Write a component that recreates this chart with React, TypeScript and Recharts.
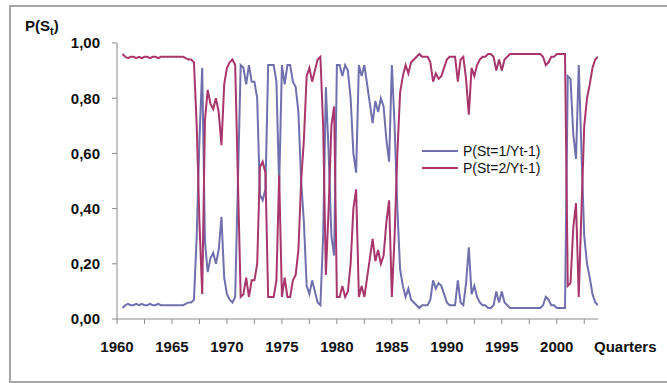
import { Legend, Line, LineChart, XAxis, YAxis } from "recharts";

const startYear = 1960.5;

// P(St=1/Yt-1), one value per quarter
const p1 = [
  0.04, 0.05, 0.055, 0.05, 0.05, 0.055, 0.05, 0.055, 0.05, 0.05,
  0.055, 0.05, 0.05, 0.055, 0.05, 0.05, 0.05, 0.05, 0.05, 0.05,
  0.05, 0.05, 0.05, 0.055, 0.06, 0.06, 0.07, 0.3, 0.65, 0.91,
  0.28, 0.17, 0.22, 0.24, 0.2, 0.25, 0.37, 0.15, 0.09, 0.07,
  0.06, 0.08, 0.5, 0.92, 0.91, 0.85, 0.92, 0.86, 0.86, 0.8,
  0.45, 0.43, 0.47, 0.92, 0.92, 0.92, 0.86, 0.48, 0.92, 0.85,
  0.92, 0.92, 0.86, 0.84, 0.75, 0.5, 0.35, 0.12, 0.09, 0.14,
  0.1, 0.06, 0.05, 0.3, 0.84, 0.6, 0.3, 0.23, 0.92, 0.92,
  0.88, 0.92, 0.9, 0.8, 0.6, 0.53, 0.92, 0.88, 0.92, 0.85,
  0.78, 0.71, 0.79, 0.75, 0.8, 0.77, 0.65, 0.57, 0.92, 0.7,
  0.4, 0.18, 0.12, 0.08, 0.11, 0.07, 0.06, 0.05, 0.04, 0.05,
  0.05, 0.05, 0.07, 0.14, 0.11, 0.13, 0.12, 0.09, 0.06, 0.05,
  0.05, 0.05, 0.14, 0.06, 0.05, 0.13, 0.26, 0.09, 0.12, 0.08,
  0.06, 0.05, 0.05, 0.04, 0.04, 0.05, 0.1, 0.06, 0.1, 0.06,
  0.05, 0.04, 0.04, 0.04, 0.04, 0.04, 0.04, 0.04, 0.04, 0.04,
  0.04, 0.04, 0.04, 0.05, 0.08, 0.07, 0.05, 0.05, 0.04, 0.04,
  0.04, 0.04, 0.88, 0.87, 0.67, 0.58, 0.92, 0.6, 0.3, 0.2,
  0.15, 0.09, 0.06, 0.05,
];

// P(St=2/Yt-1)
const p2 = [
  0.96, 0.95, 0.945, 0.95, 0.95, 0.945, 0.95, 0.945, 0.95, 0.95,
  0.945, 0.95, 0.95, 0.945, 0.95, 0.95, 0.95, 0.95, 0.95, 0.95,
  0.95, 0.95, 0.95, 0.945, 0.94, 0.94, 0.93, 0.7, 0.35, 0.09,
  0.72, 0.83, 0.78, 0.76, 0.8, 0.75, 0.63, 0.85, 0.91, 0.93,
  0.94, 0.92, 0.5, 0.08, 0.09, 0.15, 0.08, 0.14, 0.14, 0.2,
  0.55, 0.57, 0.53, 0.08, 0.08, 0.08, 0.14, 0.52, 0.08, 0.15,
  0.08, 0.08, 0.14, 0.16, 0.25, 0.5, 0.65, 0.88, 0.91, 0.86,
  0.9, 0.94, 0.95, 0.7, 0.16, 0.4, 0.7, 0.77, 0.08, 0.08,
  0.12, 0.08, 0.1, 0.2, 0.4, 0.47, 0.08, 0.12, 0.08, 0.15,
  0.22, 0.29, 0.21, 0.25, 0.2, 0.23, 0.35, 0.43, 0.08, 0.3,
  0.6, 0.82, 0.88, 0.92, 0.89, 0.93, 0.94, 0.95, 0.96, 0.95,
  0.95, 0.95, 0.93, 0.86, 0.89, 0.87, 0.88, 0.91, 0.94, 0.95,
  0.95, 0.95, 0.86, 0.94, 0.95, 0.87, 0.74, 0.91, 0.88, 0.92,
  0.94, 0.95, 0.95, 0.96, 0.96, 0.95, 0.9, 0.94, 0.9, 0.94,
  0.95, 0.96, 0.96, 0.96, 0.96, 0.96, 0.96, 0.96, 0.96, 0.96,
  0.96, 0.96, 0.96, 0.95, 0.92, 0.93, 0.95, 0.95, 0.96, 0.96,
  0.96, 0.96, 0.12, 0.13, 0.33, 0.42, 0.08, 0.4, 0.7, 0.8,
  0.85, 0.91, 0.94, 0.95,
];

const yTicks = [0, 0.2, 0.4, 0.6, 0.8, 1];
const xTicks = [
  1960, 1962.5, 1965, 1967.5, 1970, 1972.5, 1975, 1977.5, 1980, 1982.5,
  1985, 1987.5, 1990, 1992.5, 1995, 1997.5, 2000, 2002.5,
];
const xLabels = [1960, 1965, 1970, 1975, 1980, 1985, 1990, 1995, 2000];

const data = p1.map((v, i) => ({ t: startYear + i * 0.25, p1: v, p2: p2[i] }));

const font = "'Liberation Sans', Arial, sans-serif";
const blue = "#7070ae";
const red = "#a8366d";
const tickStyle = { fill: "#111", fontSize: 15, fontWeight: "bold", fontFamily: font };

function LegendBox() {
  const items = [
    { label: "P(St=1/Yt-1)", color: blue },
    { label: "P(St=2/Yt-1)", color: red },
  ];
  return (
    <div style={{ fontFamily: font, fontSize: 14, color: "#111" }}>
      {items.map((it) => (
        <div key={it.label} style={{ display: "flex", alignItems: "center", height: 17 }}>
          <svg width={36} height={4} style={{ marginRight: 5 }}>
            <line x1={0} y1={2} x2={36} y2={2} stroke={it.color} strokeWidth={2} />
          </svg>
          <span>{it.label}</span>
        </div>
      ))}
    </div>
  );
}

export default function App() {
  return (
    <div style={{ position: "relative", width: 667, height: 383, overflow: "hidden", background: "#fff" }}>
      <style>{"body{margin:0}"}</style>
      <div
        style={{
          position: "absolute",
          left: 9,
          top: 5,
          width: 680,
          height: 374,
          border: "2px solid #a6a6a6",
        }}
      />
      <div
        style={{
          position: "absolute",
          left: 25,
          top: 17,
          fontFamily: font,
          fontSize: 15,
          fontWeight: "bold",
          color: "#111",
        }}>
        P(S<sub style={{ fontSize: 11 }}>t</sub>)
      </div>
      <div
        style={{
          position: "absolute",
          left: 594,
          top: 338,
          fontFamily: font,
          fontSize: 15,
          fontWeight: "bold",
          color: "#111",
        }}>
        Quarters
      </div>
      <div style={{ position: "absolute", left: 0, top: 0 }}>
        <LineChart
          width={667}
          height={383}
          data={data}
          margin={{ top: 43, right: 69, bottom: 34, left: 57 }}>
          <XAxis
            dataKey="t"
            type="number"
            domain={[1960, 2003.75]}
            ticks={xTicks}
            tickFormatter={(v) => (xLabels.includes(v) ? String(v) : "")}
            interval={0}
            height={30}
            tickSize={5}
            tickMargin={17}
            stroke="#8c8c8c"
            tick={tickStyle}
            allowDataOverflow
          />
          <YAxis
            domain={[0, 1]}
            ticks={yTicks}
            width={60}
            tickSize={5}
            tickMargin={12}
            stroke="#8c8c8c"
            tick={tickStyle}
            tickFormatter={(v) => v.toFixed(2).replace(".", ",")}
          />
          <Legend
            content={<LegendBox />}
            layout="horizontal"
            verticalAlign="middle"
            align="center"
            wrapperStyle={{ left: 422, top: 142, width: 170 }}
          />
          <Line
            dataKey="p1"
            name="P(St=1/Yt-1)"
            stroke={blue}
            strokeWidth={2}
            dot={false}
            isAnimationActive={false}
          />
          <Line
            dataKey="p2"
            name="P(St=2/Yt-1)"
            stroke={red}
            strokeWidth={2}
            dot={false}
            isAnimationActive={false}
          />
        </LineChart>
      </div>
    </div>
  );
}
